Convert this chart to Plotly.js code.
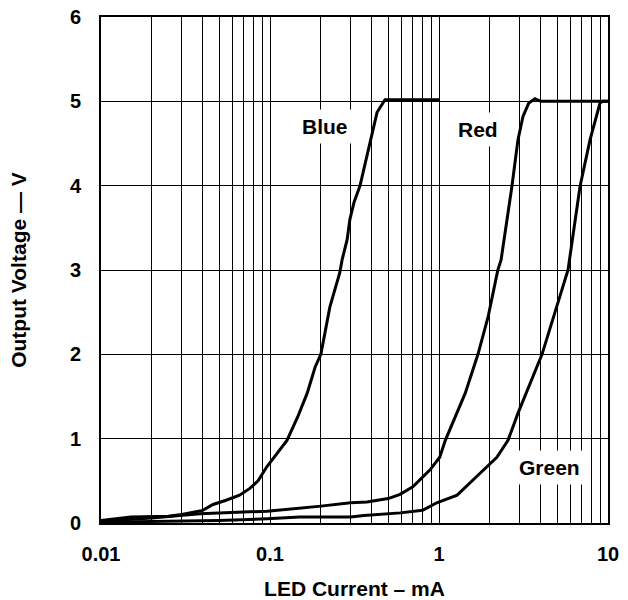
<!DOCTYPE html>
<html>
<head>
<meta charset="utf-8">
<script src="https://cdn.plot.ly/plotly-3.0.1.min.js"></script>
<style>html,body{margin:0;padding:0;background:#fff;}#chart{width:628px;height:600px;}</style>
</head>
<body>
<div id="chart"></div>
<script>
// LED current (mA) and output voltage (V)
const blueX  = [0.01, 0.015, 0.025, 0.03, 0.04, 0.046, 0.055, 0.066, 0.076, 0.085, 0.096, 0.11, 0.126, 0.146, 0.166, 0.185, 0.2, 0.226, 0.259, 0.267, 0.286, 0.297, 0.314, 0.341, 0.385, 0.43, 0.479, 1.0];
const blueY  = [0.03, 0.07, 0.08, 0.1, 0.15, 0.22, 0.27, 0.33, 0.41, 0.5, 0.67, 0.82, 0.98, 1.26, 1.54, 1.85, 2.0, 2.56, 2.97, 3.12, 3.36, 3.6, 3.8, 4.0, 4.46, 4.87, 5.02, 5.02];
const redX   = [0.01, 0.02, 0.0385, 0.096, 0.2, 0.3, 0.375, 0.5, 0.588, 0.7, 0.885, 1.01, 1.09, 1.43, 1.7, 1.95, 2.23, 2.33, 2.7, 2.93, 3.14, 3.4, 3.7, 4.0, 10];
const redY   = [0.02, 0.06, 0.11, 0.14, 0.2, 0.24, 0.25, 0.29, 0.34, 0.43, 0.63, 0.78, 0.98, 1.54, 2.0, 2.44, 3.0, 3.12, 3.99, 4.54, 4.82, 4.98, 5.03, 5.0, 5.0];
const greenX = [0.01, 0.05, 0.096, 0.15, 0.3, 0.36, 0.59, 0.8, 0.97, 1.28, 1.75, 2.2, 2.56, 2.93, 4.07, 5.8, 6.83, 7.82, 8.97, 9.3, 10];
const greenY = [0.01, 0.03, 0.05, 0.07, 0.07, 0.09, 0.12, 0.15, 0.24, 0.33, 0.59, 0.78, 0.98, 1.3, 2.0, 3.0, 3.99, 4.54, 4.98, 5.0, 5.0];

const xTickVals = [0.01, 0.1, 1, 10];
const xTickText = ["0.01", "0.1", "1", "10"];
const xMinorVals = [0.02,0.03,0.04,0.05,0.06,0.07,0.08,0.09,0.2,0.3,0.4,0.5,0.6,0.7,0.8,0.9,2,3,4,5,6,7,8,9];
const yTickVals = [0, 1, 2, 3, 4, 5, 6];

const labels = [
  {text: "Blue",  x: 0.211, y: 4.70},
  {text: "Red",   x: 1.71,  y: 4.67},
  {text: "Green", x: 4.51,  y: 0.655}
];

const FONT = "Liberation Sans, Arial, sans-serif";
const line = {color: "#000", width: 3};

const traces = [
  {x: blueX, y: blueY, mode: "lines", line: line, name: "Blue"},
  {x: redX, y: redY, mode: "lines", line: line, name: "Red"},
  {x: greenX, y: greenY, mode: "lines", line: line, name: "Green"}
];

const layout = {
  width: 628, height: 600,
  margin: {l: 101, r: 20, t: 17, b: 77},
  paper_bgcolor: "#fff", plot_bgcolor: "#fff",
  showlegend: false,
  font: {family: FONT, size: 20, color: "#000", weight: 700},
  xaxis: {
    type: "log", range: [-2, 1],
    tickmode: "array", tickvals: xTickVals, ticktext: xTickText,
    showgrid: true, gridcolor: "#000", gridwidth: 1,
    minor: {tickmode: "array", tickvals: xMinorVals, showgrid: true, gridcolor: "#000", gridwidth: 1, ticks: ""},
    showline: true, linecolor: "#000", linewidth: 2, mirror: true,
    ticks: "", ticklabelstandoff: 12,
    tickfont: {family: FONT, size: 20, weight: 700},
    zeroline: false,
    title: {text: "LED Current – mA", font: {family: FONT, size: 21, weight: 700}, standoff: 18}
  },
  yaxis: {
    range: [0, 6], tickmode: "array", tickvals: yTickVals,
    showgrid: true, gridcolor: "#000", gridwidth: 1,
    showline: true, linecolor: "#000", linewidth: 2, mirror: true,
    ticks: "", ticklabelstandoff: 14,
    tickfont: {family: FONT, size: 20, weight: 700},
    zeroline: false,
    title: {text: "Output Voltage — V", font: {family: FONT, size: 21, weight: 700}, standoff: 38}
  },
  annotations: labels.map(l => ({
    x: Math.log10(l.x), y: l.y, xref: "x", yref: "y",
    text: l.text, showarrow: false,
    bgcolor: "#fff", borderpad: 5,
    font: {family: FONT, size: 21, weight: 700, color: "#000"}
  }))
};

Plotly.newPlot("chart", traces, layout, {staticPlot: true, displayModeBar: false});
</script>
</body>
</html>
